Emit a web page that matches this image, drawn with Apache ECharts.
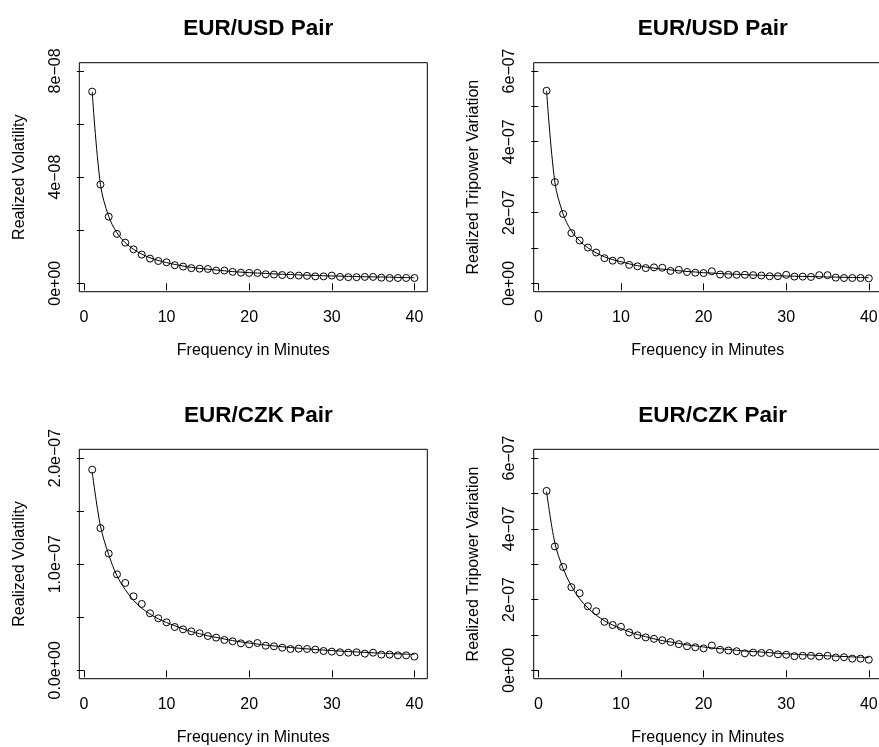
<!DOCTYPE html>
<html>
<head>
<meta charset="utf-8">
<script src="https://cdn.jsdelivr.net/npm/echarts@6/dist/echarts.min.js"></script>
<style>
  html, body { margin: 0; padding: 0; background: #fff; overflow: hidden; }
  #chart { width: 879px; height: 747px; }
</style>
</head>
<body>
<div id="chart"></div>
<script>
// Sampling frequency (minutes)
const minutes = [1,2,3,4,5,6,7,8,9,10,11,12,13,14,15,16,17,18,19,20,
                 21,22,23,24,25,26,27,28,29,30,31,32,33,34,35,36,37,38,39,40];

// EUR/USD realized volatility, units of 1e-8
const usdRV = [7.22,3.72,2.51,1.86,1.53,1.28,1.08,0.93,0.84,0.79,0.68,0.63,0.57,0.55,0.54,0.48,0.48,0.43,0.40,0.39,
               0.39,0.34,0.33,0.31,0.30,0.29,0.28,0.26,0.26,0.29,0.24,0.23,0.23,0.24,0.24,0.21,0.20,0.20,0.20,0.20];
const usdRVFit = [7.22,3.72,2.52,1.90,1.53,1.28,1.10,0.96,0.86,0.78,0.71,0.65,0.60,0.56,0.53,0.50,0.47,0.44,0.42,0.40,
                  0.385,0.37,0.355,0.34,0.33,0.315,0.305,0.295,0.285,0.275,0.27,0.26,0.255,0.245,0.24,0.235,0.23,0.22,0.215,0.21];

// EUR/USD realized tripower variation, units of 1e-7
const usdTPV = [5.44,2.86,1.96,1.42,1.21,1.01,0.87,0.71,0.64,0.64,0.52,0.48,0.43,0.45,0.44,0.35,0.38,0.32,0.30,0.29,
                0.34,0.25,0.24,0.24,0.24,0.23,0.22,0.20,0.20,0.24,0.19,0.19,0.18,0.23,0.23,0.16,0.15,0.15,0.15,0.14];
const usdTPVFit = [5.44,2.86,1.96,1.48,1.20,1.00,0.86,0.75,0.67,0.61,0.55,0.50,0.46,0.43,0.40,0.38,0.355,0.335,0.32,0.30,
                   0.29,0.275,0.265,0.255,0.245,0.235,0.228,0.22,0.213,0.207,0.20,0.195,0.19,0.185,0.18,0.175,0.17,0.166,0.162,0.158];

// EUR/CZK realized volatility, units of 1e-7
const czkRV = [1.89,1.34,1.10,0.904,0.823,0.697,0.625,0.537,0.490,0.452,0.408,0.386,0.367,0.349,0.323,0.308,0.286,0.273,0.254,0.245,
               0.257,0.232,0.226,0.213,0.201,0.204,0.201,0.195,0.182,0.176,0.170,0.166,0.170,0.157,0.166,0.148,0.148,0.141,0.141,0.129];
const czkRVFit = [1.87,1.36,1.09,0.89,0.76,0.66,0.585,0.53,0.485,0.45,0.42,0.39,0.365,0.345,0.325,0.31,0.295,0.28,0.268,0.257,
                  0.247,0.238,0.23,0.222,0.215,0.208,0.202,0.196,0.191,0.186,0.181,0.177,0.173,0.169,0.165,0.162,0.158,0.155,0.152,0.149];

// EUR/CZK realized tripower variation, units of 1e-7
const czkTPV = [5.07,3.50,2.92,2.35,2.18,1.81,1.67,1.37,1.28,1.23,1.07,0.99,0.93,0.89,0.85,0.80,0.74,0.68,0.65,0.62,
                0.70,0.58,0.56,0.54,0.48,0.50,0.49,0.49,0.45,0.44,0.40,0.41,0.41,0.39,0.41,0.36,0.37,0.33,0.33,0.30];
const czkTPVFit = [5.05,3.60,2.88,2.38,2.02,1.76,1.56,1.40,1.28,1.18,1.09,1.01,0.95,0.89,0.84,0.80,0.76,0.72,0.69,0.66,
                   0.635,0.61,0.59,0.565,0.545,0.53,0.515,0.50,0.48,0.465,0.455,0.44,0.43,0.42,0.41,0.40,0.39,0.38,0.37,0.36];

// Axis ticks and labels
const xTicks = [0, 10, 20, 30, 40];
const yTicksRV8 = [0, 2, 4, 6, 8];
const yLabVals8 = [0, 4, 8];
const yLabTxt8 = ['0e+00', '4e\u221208', '8e\u221208'];
const yTicksTPV = [0, 1, 2, 3, 4, 5, 6];
const yLabValsTPV = [0, 2, 4, 6];
const yLabTxtTPV = ['0e+00', '2e\u221207', '4e\u221207', '6e\u221207'];
const yTicksCzk = [0, 0.5, 1, 1.5, 2];
const yLabValsCzk = [0, 1, 2];
const yLabTxtCzk = ['0.0e+00', '1.0e\u221207', '2.0e\u221207'];

const titles = ['EUR/USD Pair', 'EUR/USD Pair', 'EUR/CZK Pair', 'EUR/CZK Pair'];
const yNames = ['Realized Volatility', 'Realized Tripower Variation', 'Realized Volatility', 'Realized Tripower Variation'];
const xName = 'Frequency in Minutes';

const FONT = 'Liberation Sans, Arial, Helvetica, sans-serif';

const panels = [
  { pts: usdRV,  fit: usdRVFit,  yMin: -0.317, yMax: 8.31,  ticks: yTicksRV8, labVals: yLabVals8,   labTxt: yLabTxt8,
    grid: { left: 79.3,  top: 62.7,  width: 348, height: 229 }, cx: 253.3, ty: 12 },
  { pts: usdTPV, fit: usdTPVFit, yMin: -0.237, yMax: 6.233, ticks: yTicksTPV, labVals: yLabValsTPV, labTxt: yLabTxtTPV,
    grid: { left: 533.7, top: 62.7,  width: 348, height: 229 }, cx: 707.7, ty: 12 },
  { pts: czkRV,  fit: czkRVFit,  yMin: -0.079, yMax: 2.082, ticks: yTicksCzk, labVals: yLabValsCzk, labTxt: yLabTxtCzk,
    grid: { left: 79.3,  top: 449.3, width: 348, height: 229.4 }, cx: 253.3, ty: 399 },
  { pts: czkTPV, fit: czkTPVFit, yMin: -0.237, yMax: 6.246, ticks: yTicksTPV, labVals: yLabValsTPV, labTxt: yLabTxtTPV,
    grid: { left: 533.7, top: 449.3, width: 348, height: 229.4 }, cx: 707.7, ty: 399 }
];

const option = {
  animation: false,
  backgroundColor: '#fff',
  title: [], grid: [], xAxis: [], yAxis: [], series: []
};

panels.forEach((p, i) => {
  option.title.push({
    text: titles[i], left: p.cx, top: p.ty, textAlign: 'center',
    textStyle: { fontFamily: FONT, fontSize: 22.5, fontWeight: 'bold', color: '#000' }
  });
  option.grid.push(Object.assign({
    show: true, borderColor: '#000', borderWidth: 1, backgroundColor: 'transparent',
    outerBoundsMode: 'none', containLabel: false
  }, p.grid));
  option.xAxis.push({
    type: 'value', gridIndex: i, min: -0.56, max: 41.56,
    name: xName, nameLocation: 'middle', nameGap: 51,
    nameTextStyle: { fontFamily: FONT, fontSize: 16, color: '#000' },
    axisLine: { show: false },
    axisTick: { show: true, length: 7, customValues: xTicks, lineStyle: { color: '#000', width: 1 } },
    axisLabel: { customValues: xTicks, margin: 18, fontFamily: FONT, fontSize: 16, color: '#000' },
    splitLine: { show: false }
  });
  option.yAxis.push({
    type: 'value', gridIndex: i, min: p.yMin, max: p.yMax,
    name: yNames[i], nameLocation: 'middle', nameGap: 52, nameRotate: 90,
    nameTextStyle: { fontFamily: FONT, fontSize: 16, color: '#000' },
    axisLine: { show: false },
    axisTick: { show: true, length: 7, customValues: p.ticks, lineStyle: { color: '#000', width: 1 } },
    axisLabel: {
      customValues: p.labVals, rotate: 90, margin: 16,
      fontFamily: FONT, fontSize: 16, color: '#000',
      formatter: (v) => {
        const k = p.labVals.findIndex(t => Math.abs(t - v) < 1e-9);
        return k >= 0 ? p.labTxt[k] : '';
      }
    },
    splitLine: { show: false }
  });
  option.series.push({
    type: 'line', xAxisIndex: i, yAxisIndex: i, smooth: 0.35, showSymbol: false, symbol: 'none',
    data: minutes.map((m, k) => [m, p.fit[k]]),
    lineStyle: { color: '#000', width: 1 }, z: 2, silent: true
  });
  option.series.push({
    type: 'scatter', xAxisIndex: i, yAxisIndex: i, symbol: 'circle', symbolSize: 7,
    data: minutes.map((m, k) => [m, p.pts[k]]),
    itemStyle: { color: 'rgba(0,0,0,0)', borderColor: '#000', borderWidth: 1, opacity: 1 },
    z: 3, silent: true
  });
});

const chart = echarts.init(document.getElementById('chart'), null, { renderer: 'canvas' });
chart.setOption(option);
</script>
</body>
</html>
